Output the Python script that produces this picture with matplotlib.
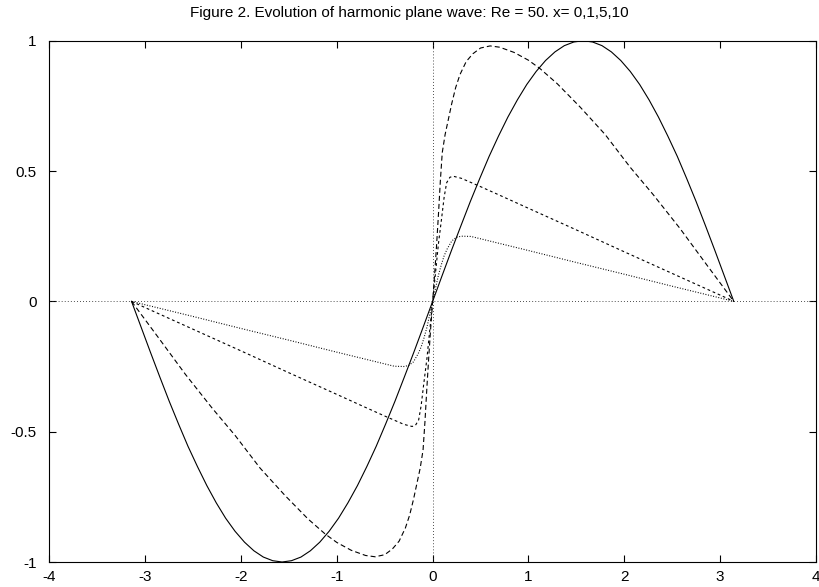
import matplotlib
matplotlib.use("Agg")
import matplotlib.pyplot as plt

plt.rcParams['font.family'] = ['Liberation Sans', 'DejaVu Sans']
plt.rcParams['lines.scale_dashes'] = False

title = "Figure 2. Evolution of harmonic plane wave: Re = 50. x= 0,1,5,10"
x_ticks = [-4, -3, -2, -1, 0, 1, 2, 3, 4]
y_ticks = [-1, -0.5, 0, 0.5, 1]
y_tick_labels = ["-1", "-0.5", "0", "0.5", "1"]

# x = 0 (initial harmonic wave)
x0 = [-3.142, -3.043, -2.945, -2.847, -2.749, -2.651, -2.553, -2.454, -2.356,
      -2.258, -2.160, -2.062, -1.963, -1.865, -1.767, -1.669, -1.571,
      -1.473, -1.374, -1.276, -1.178, -1.080, -0.982, -0.884, -0.785,
      -0.687, -0.589, -0.491, -0.393, -0.295, -0.196, -0.098, 0.0,
      0.098, 0.196, 0.295, 0.393, 0.491, 0.589, 0.687, 0.785,
      0.884, 0.982, 1.080, 1.178, 1.276, 1.374, 1.473, 1.571,
      1.669, 1.767, 1.865, 1.963, 2.062, 2.160, 2.258, 2.356,
      2.454, 2.553, 2.651, 2.749, 2.847, 2.945, 3.043, 3.142]
u0 = [0.0, -0.098, -0.195, -0.290, -0.383, -0.471, -0.556, -0.634, -0.707,
      -0.773, -0.832, -0.882, -0.924, -0.957, -0.981, -0.995, -1.0,
      -0.995, -0.981, -0.957, -0.924, -0.882, -0.832, -0.773, -0.707,
      -0.634, -0.556, -0.471, -0.383, -0.290, -0.195, -0.098, 0.0,
      0.098, 0.195, 0.290, 0.383, 0.471, 0.556, 0.634, 0.707,
      0.773, 0.832, 0.882, 0.924, 0.957, 0.981, 0.995, 1.0,
      0.995, 0.981, 0.957, 0.924, 0.882, 0.832, 0.773, 0.707,
      0.634, 0.556, 0.471, 0.383, 0.290, 0.195, 0.098, 0.0]

# x = 1
x1 = [-3.142, -2.86, -2.58, -2.3, -2.06, -1.8, -1.54, -1.3, -1.12, -1.0, -0.85,
      -0.7, -0.6, -0.5, -0.42, -0.35, -0.285, -0.24, -0.2, -0.165, -0.13, -0.1,
      -0.08, -0.06, -0.04, -0.02, 0.0,
      0.02, 0.04, 0.06, 0.08, 0.1, 0.13, 0.165, 0.2, 0.24, 0.285, 0.35, 0.42,
      0.5, 0.6, 0.7, 0.85, 1.0, 1.12, 1.3, 1.54, 1.8, 2.06, 2.3, 2.58, 2.86, 3.142]
u1 = [0.0, -0.14, -0.28, -0.41, -0.515, -0.64, -0.745, -0.835, -0.893, -0.925, -0.955,
      -0.975, -0.98, -0.972, -0.95, -0.92, -0.87, -0.82, -0.76, -0.70, -0.64, -0.57,
      -0.46, -0.33, -0.21, -0.10, 0.0,
      0.10, 0.21, 0.33, 0.46, 0.57, 0.64, 0.70, 0.76, 0.82, 0.87, 0.92, 0.95,
      0.972, 0.98, 0.975, 0.955, 0.925, 0.893, 0.835, 0.745, 0.64, 0.515, 0.41, 0.28, 0.14, 0.0]

# x = 5
x5 = [-3.142, -3.0, -2.5, -2.0, -1.5, -1.0, -0.7, -0.5, -0.3, -0.215, -0.18,
      -0.146, -0.12, -0.094, -0.06, -0.03, 0.0,
      0.03, 0.06, 0.094, 0.12, 0.146, 0.18, 0.215, 0.3, 0.5, 0.7, 1.0, 1.5,
      2.0, 2.5, 3.0, 3.142]
u5 = [0.0, -0.024, -0.107, -0.19, -0.274, -0.357, -0.407, -0.44, -0.472, -0.48, -0.476,
      -0.455, -0.40, -0.32, -0.22, -0.11, 0.0,
      0.11, 0.22, 0.32, 0.40, 0.455, 0.476, 0.48, 0.472, 0.44, 0.407, 0.357, 0.274,
      0.19, 0.107, 0.024, 0.0]

# x = 10
x10 = [-3.142, -3.0, -2.5, -2.0, -1.5, -1.0, -0.7, -0.5, -0.4, -0.3, -0.25, -0.2,
       -0.15, -0.12, -0.09, -0.06, -0.03, 0.0,
       0.03, 0.06, 0.09, 0.12, 0.15, 0.2, 0.25, 0.3, 0.4, 0.5, 0.7, 1.0, 1.5,
       2.0, 2.5, 3.0, 3.142]
u10 = [0.0, -0.013, -0.058, -0.104, -0.149, -0.195, -0.222, -0.24, -0.249, -0.25, -0.246, -0.232,
       -0.20, -0.175, -0.14, -0.10, -0.05, 0.0,
       0.05, 0.10, 0.14, 0.175, 0.20, 0.232, 0.246, 0.25, 0.249, 0.24, 0.222, 0.195, 0.149,
       0.104, 0.058, 0.013, 0.0]

fig = plt.figure(figsize=(8.19, 5.87), dpi=100)
ax = fig.add_axes([49.3 / 819, 25 / 587, (816 - 49.3) / 819, (562 - 40.7) / 587])

lw = 0.8
# zero axes
ax.plot([-4, 4], [0, 0], color='#333333', lw=0.7, dashes=(0.6, 1.6))
ax.plot([0, 0], [-1, 1], color='#333333', lw=0.7, dashes=(0.6, 1.6))

ax.plot(x0, u0, color='black', lw=lw)
ax.plot(x1, u1, color='black', lw=lw, dashes=(3.6, 2.2))
ax.plot(x5, u5, color='black', lw=lw, dashes=(2.0, 2.0))
ax.plot(x10, u10, color='black', lw=lw, dashes=(0.7, 1.2))

ax.set_xlim(-4, 4)
ax.set_ylim(-1, 1)
ax.set_xticks(x_ticks)
ax.set_xticklabels([str(v) for v in x_ticks])
ax.set_yticks(y_ticks)
ax.set_yticklabels(y_tick_labels)
ax.tick_params(direction='in', length=5, width=0.8, top=True, right=True,
               labelsize=11, pad=6)
ax.tick_params(axis='y', pad=9)
for s in ax.spines.values():
    s.set_linewidth(0.8)

fig.text(0.5, 1 - 13 / 587, title, ha='center', va='center', fontsize=11)

fig.savefig("out.png", dpi=100)
